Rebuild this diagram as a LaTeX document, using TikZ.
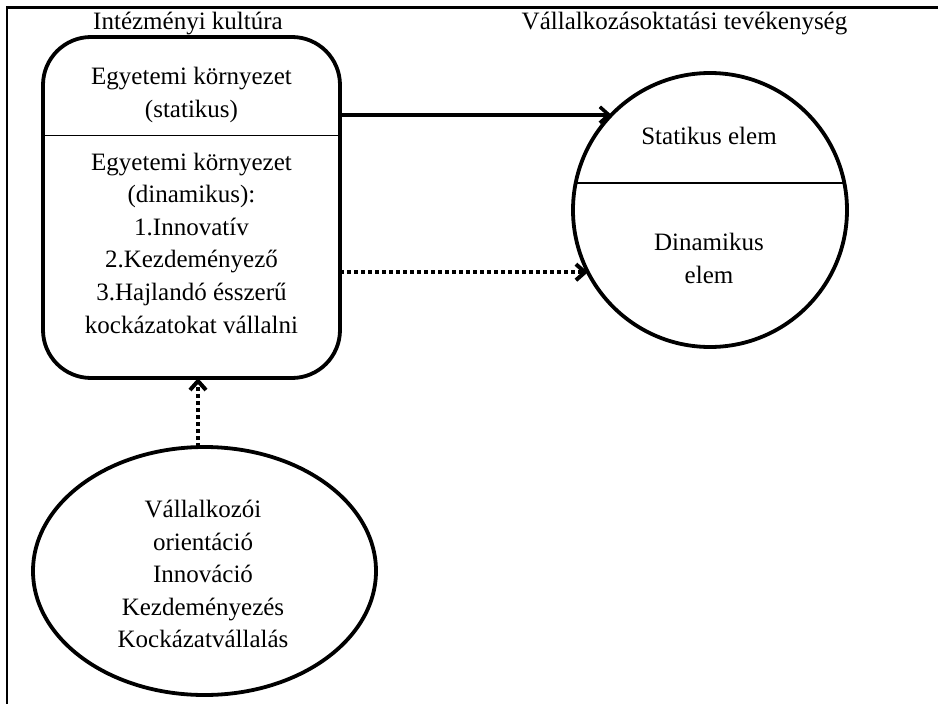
\documentclass[tikz,border=0pt]{standalone}
\usepackage{fontspec}
\setmainfont{Liberation Serif}
\usetikzlibrary{arrows.meta,shapes.geometric}
\begin{document}
\begin{tikzpicture}[x=1pt,y=-1pt,
  txt/.style={anchor=base,inner sep=0pt,font=\fontsize{25}{30}\selectfont},
  frameline/.style={line width=2.4pt},
  outline/.style={draw,line width=3.8pt,outer sep=0pt},
  divider/.style={line width=1.1pt},
  tip/.style={-{Straight Barb[length=9pt,width=16pt]}},
  solidarrow/.style={tip,line width=3.5pt},
  dotarrow/.style={tip,line width=4pt,dash pattern=on 4pt off 3pt}
]
\useasboundingbox (0,0) rectangle (938,704);

% frame: top and left rules
\draw[frameline] (7,705) -- (7,7.5) -- (939,7.5);

% headings
\node[txt] (h1) at (188,29) {Intézményi kultúra};
\node[txt] (h2) at (684.5,29) {Vállalkozásoktatási tevékenység};

% institutional culture box
\node[outline,rectangle,rounded corners=48pt,minimum width=297pt,minimum height=341pt]
  (kultura) at (191.5,207.5) {};
\draw[divider] (kultura.west |- 0,135.7) -- (kultura.east |- 0,135.7);
\node[txt] (k1) at (191.5,84) {Egyetemi környezet};
\node[txt] (k2) at (191.5,117) {(statikus)};
\node[txt] (k3) at (191.5,170) {Egyetemi környezet};
\node[txt] (k4) at (191.5,202.6) {(dinamikus):};
\node[txt] (k5) at (191.5,235.2) {1.Innovatív};
\node[txt] (k6) at (191.5,267.8) {2.Kezdeményező};
\node[txt] (k7) at (191.5,300.4) {3.Hajlandó ésszerű};
\node[txt] (k8) at (191.5,333) {kockázatokat vállalni};

% education activity circle, split by a horizontal chord
\node[outline,circle,minimum size=274pt] (tev) at (710,210) {};
\begin{scope}
  \clip (tev.center) circle (137);
  \draw[divider] (tev.west |- 0,183) -- (tev.east |- 0,183);
\end{scope}
\node[txt] (t1) at (709,144) {Statikus elem};
\node[txt] (t2) at (709,250) {Dinamikus};
\node[txt] (t3) at (709,283) {elem};

% entrepreneurial orientation ellipse
\node[outline,ellipse,minimum width=343pt,minimum height=248pt] (orient) at (204.5,571) {};
\node[txt] (o1) at (203,517.3) {Vállalkozói};
\node[txt] (o2) at (203,550) {orientáció};
\node[txt] (o3) at (203,582.7) {Innováció};
\node[txt] (o4) at (203,615) {Kezdeményezés};
\node[txt] (o5) at (203,647.3) {Kockázatvállalás};

% connectors
\draw[solidarrow] (kultura.east |- tev.136.2) -- (tev.136.2);
\draw[dotarrow] (kultura.east |- tev.207.3) -- (tev.207.3);
\draw[dotarrow] ([xshift=-6.5pt]orient.north) -- ([xshift=-6.5pt]orient.north |- kultura.south);
\end{tikzpicture}
\end{document}
